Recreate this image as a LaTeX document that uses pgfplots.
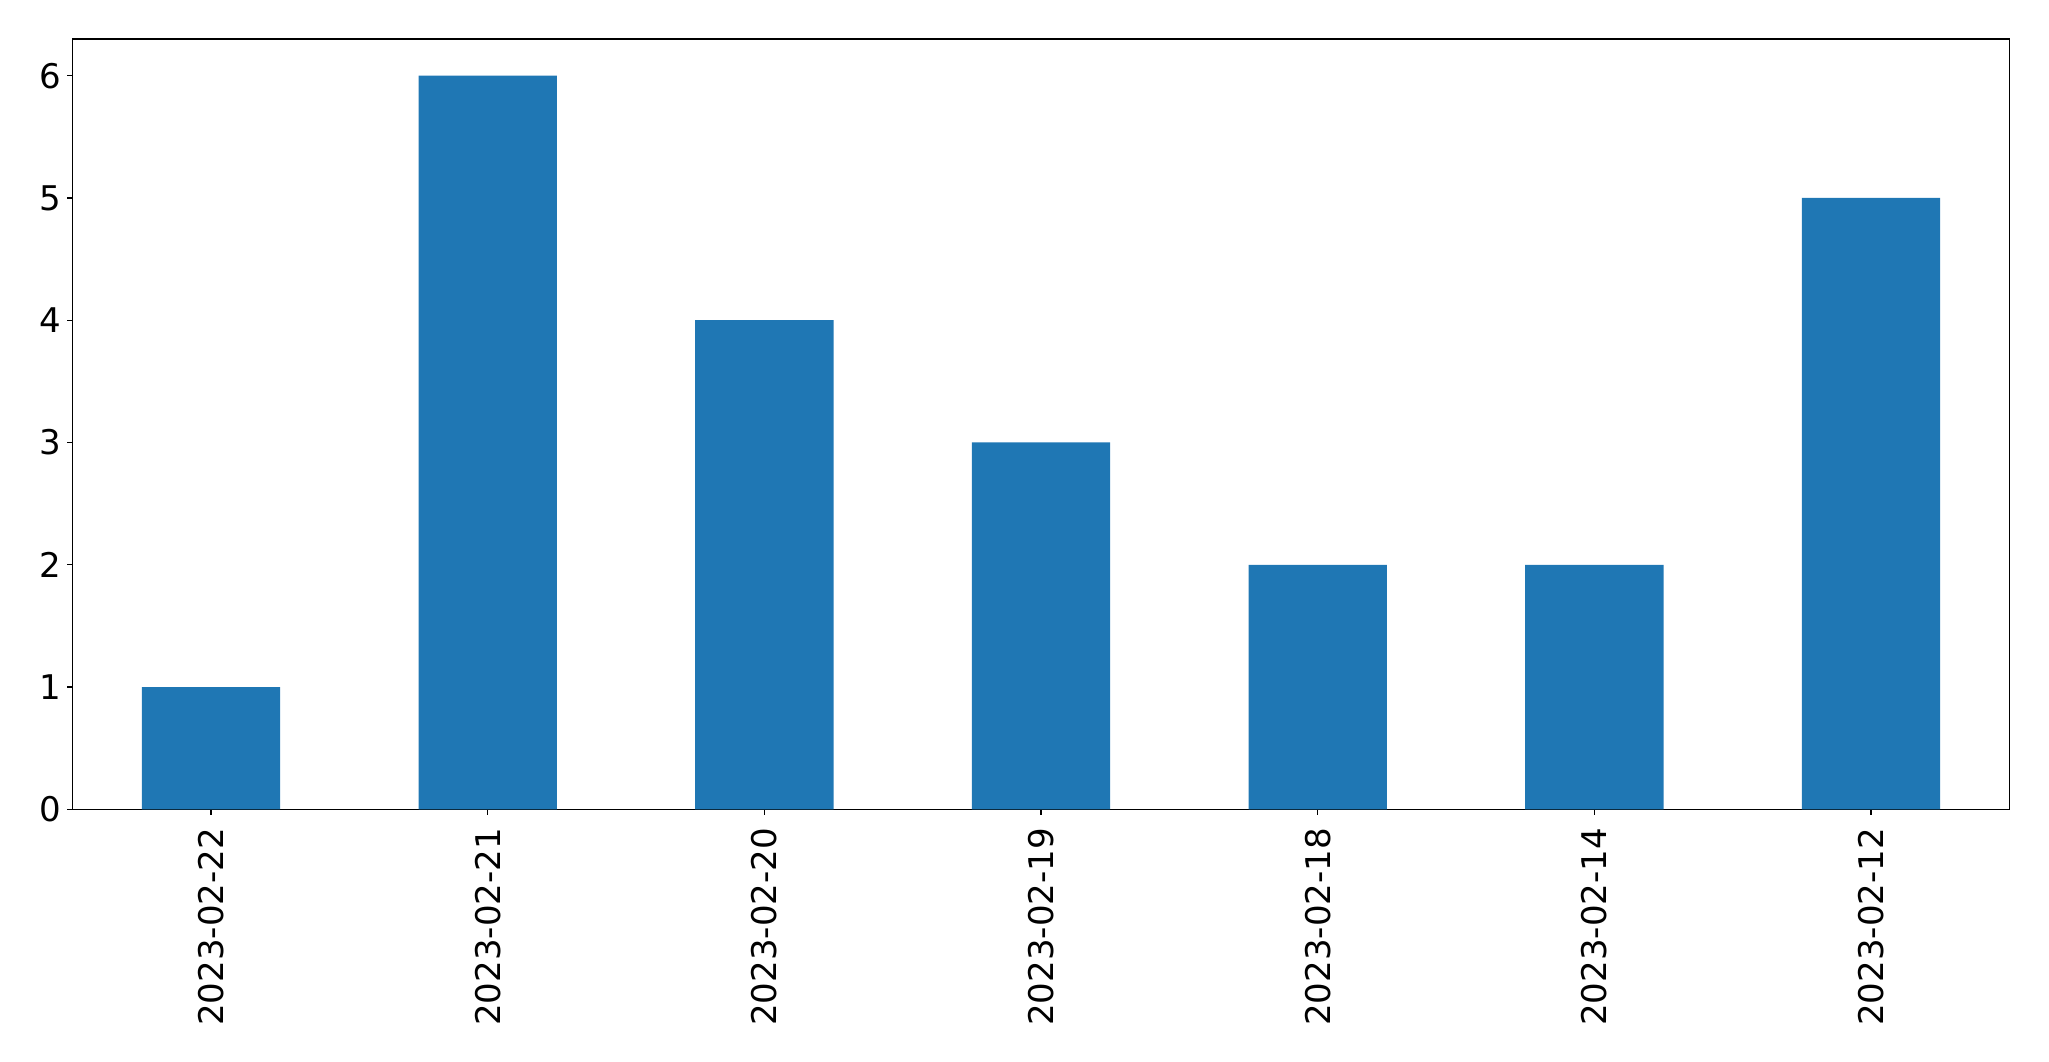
\documentclass[border=0pt]{standalone}
\usepackage{fontspec}
\setmainfont{DejaVu Sans}
\usepackage{pgfplots}
\pgfplotsset{compat=1.18}
\definecolor{barblue}{HTML}{1F77B4}
\begin{document}
\begin{tikzpicture}
\useasboundingbox (-36.35pt,-125.85pt) rectangle (988.15pt,404.65pt);
\begin{axis}[
  at={(0pt,0pt)}, anchor=south west,
  scale only axis, width=968.3pt, height=385.15pt,
  xmin=-0.5, xmax=6.5, ymin=0, ymax=6.3,
  xtick=data,
  xticklabels={2023-02-22,2023-02-21,2023-02-20,2023-02-19,2023-02-18,2023-02-14,2023-02-12},
  ytick={0,1,2,3,4,5,6},
  xtick pos=bottom, ytick pos=left,
  tick align=outside,
  major tick length=2.6pt,
  every tick/.style={black, line width=0.6pt},
  axis line style={line width=0.6pt},
  /pgf/number format/assume math mode=true,
  ticklabel style={font=\fontsize{17}{20}\selectfont, inner sep=0pt},
  yticklabel style={anchor=east, xshift=-2.8pt},
  xticklabel style={rotate=90, anchor=east, xshift=-6.6pt},
]
\addplot[ybar, bar width=0.5, fill=barblue, draw=none] coordinates {
  (0,1) (1,6) (2,4) (3,3) (4,2) (5,2) (6,5)
};
\end{axis}
\end{tikzpicture}
\end{document}
